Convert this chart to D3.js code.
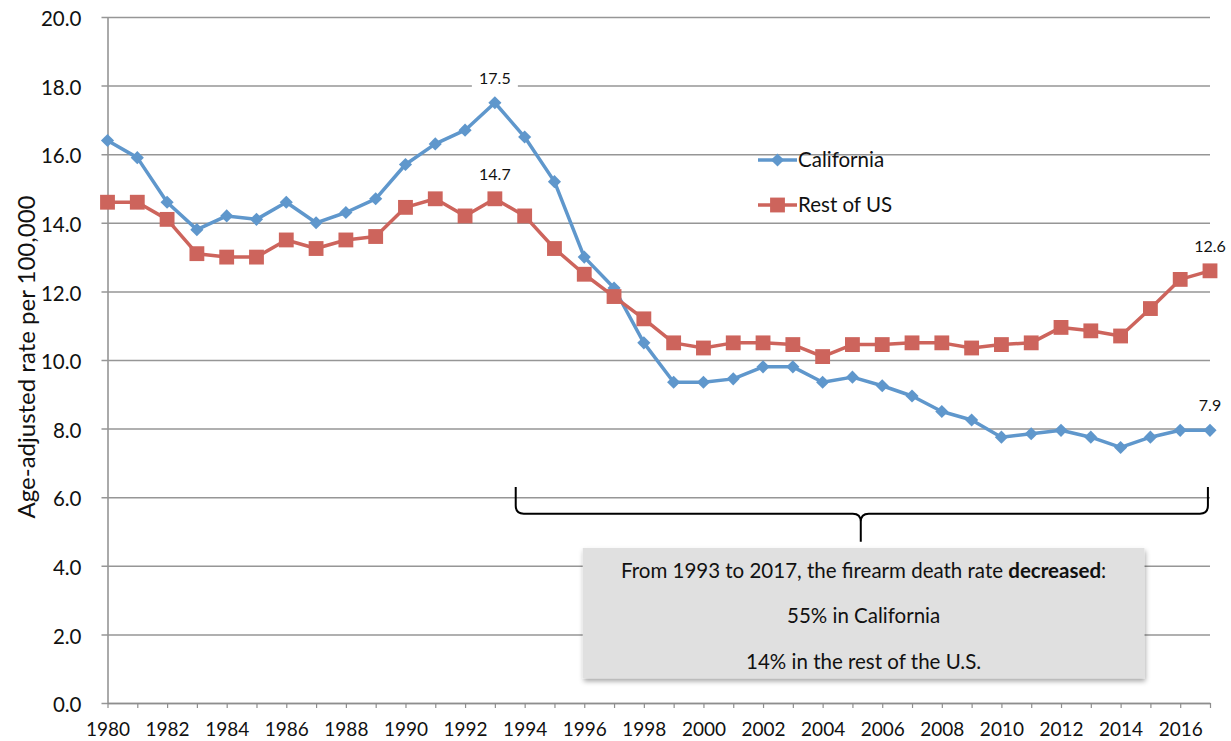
<!DOCTYPE html>
<html>
<head>
<meta charset="utf-8">
<script src="https://cdn.jsdelivr.net/npm/d3@7"></script>
<style>
  body { margin: 0; background: #fff; }
  text { font-family: Lato, "Open Sans", sans-serif; fill: #111; }
</style>
</head>
<body>
<div id="chart-area"></div>
<script>
// data
var years = d3.range(1980, 2018);
var california = [16.4, 15.9, 14.6, 13.8, 14.2, 14.1, 14.6, 14.0, 14.3, 14.7,
                  15.7, 16.3, 16.7, 17.5, 16.5, 15.2, 13.0, 12.1, 10.5, 9.35,
                  9.35, 9.45, 9.8, 9.8, 9.35, 9.5, 9.25, 8.95, 8.5, 8.25,
                  7.75, 7.85, 7.95, 7.75, 7.45, 7.75, 7.95, 7.95];
var restOfUS = [14.6, 14.6, 14.1, 13.1, 13.0, 13.0, 13.5, 13.25, 13.5, 13.6,
                14.45, 14.7, 14.2, 14.7, 14.2, 13.25, 12.5, 11.85, 11.2, 10.5,
                10.35, 10.5, 10.5, 10.45, 10.1, 10.45, 10.45, 10.5, 10.5, 10.35,
                10.45, 10.5, 10.95, 10.85, 10.7, 11.5, 12.35, 12.6];
var yTicks = [0, 2, 4, 6, 8, 10, 12, 14, 16, 18, 20];
var pointLabels = [
  { series: "California", year: 1993, text: "17.5" },
  { series: "Rest of US", year: 1993, text: "14.7" },
  { series: "Rest of US", year: 2017, text: "12.6" },
  { series: "California", year: 2017, text: "7.9" }
];
var noteLines = ["55% in California", "14% in the rest of the U.S."];

var blue = "#5f97cc";
var red = "#cd645c";

var margin = { left: 107.5, right: 21, top: 17, bottom: 38 };
var width = 1231 - margin.left - margin.right;
var height = 741 - margin.top - margin.bottom;

var svg = d3.select("#chart-area")
    .append("svg")
    .attr("width", 1231)
    .attr("height", 741);

var defs = svg.append("defs");
var shadow = defs.append("filter").attr("id", "shadow")
    .attr("x", "-5%").attr("y", "-10%").attr("width", "115%").attr("height", "130%");
shadow.append("feDropShadow")
    .attr("dx", 1).attr("dy", 3).attr("stdDeviation", 2.5)
    .attr("flood-color", "#000").attr("flood-opacity", 0.35);

var g = svg.append("g")
    .attr("transform", "translate(" + margin.left + ", " + margin.top + ")");

var x = d3.scaleLinear().domain([1980, 2017]).range([0, width]);
var y = d3.scaleLinear().domain([0, 20]).range([height, 0]);

// y axis with gridlines
var yAxis = d3.axisLeft(y).tickValues(yTicks).tickFormat(d3.format(".1f"))
    .tickSizeOuter(0);
var yg = g.append("g").attr("class", "y axis").call(yAxis);
yg.select(".domain").attr("stroke", "#8e8e8e").attr("stroke-width", 1.5);
yg.selectAll(".tick line")
    .attr("x1", -6).attr("x2", width)
    .attr("stroke", "#969696").attr("stroke-width", 1.5);
yg.selectAll(".tick text")
    .attr("x", -26)
    .attr("dy", "0.42em")
    .style("font-size", "20.5px")
    .attr("fill", "#111");

// x axis
var xAxis = d3.axisBottom(x).tickValues(years)
    .tickFormat(d => d % 2 === 0 ? d : "")
    .tickSizeInner(5).tickSizeOuter(0);
var xg = g.append("g").attr("class", "x axis")
    .attr("transform", "translate(0, " + height + ")")
    .call(xAxis);
xg.select(".domain").attr("stroke", "#8e8e8e").attr("stroke-width", 1.5);
xg.selectAll(".tick line").attr("stroke", "#8e8e8e").attr("stroke-width", 1.2);
xg.selectAll(".tick text")
    .attr("y", 20)
    .style("font-size", "19px")
    .attr("fill", "#111");

// y title
svg.append("text")
    .attr("transform", "translate(27, " + 357 + ") rotate(-90)")
    .attr("text-anchor", "middle")
    .attr("dy", "0.35em")
    .style("font-size", "24px")
    .text("Age-adjusted rate per 100,000");

// series
var series = [
  { name: "California", values: california, color: blue, shape: d3.symbolDiamond2, size: 110 },
  { name: "Rest of US", values: restOfUS, color: red, shape: d3.symbolSquare, size: 220 }
];

var line = d3.line().x((d, i) => x(years[i])).y(d => y(d));

series.forEach(s => {
  g.append("path")
      .datum(s.values)
      .attr("fill", "none")
      .attr("stroke", s.color)
      .attr("stroke-width", 3.5)
      .attr("stroke-linejoin", "round")
      .attr("d", line);
  g.selectAll(null)
      .data(s.values)
      .enter()
      .append("path")
      .attr("transform", (d, i) => "translate(" + x(years[i]) + "," + y(d) + ")")
      .attr("d", d3.symbol().type(s.shape).size(s.size))
      .attr("fill", s.color);
});

// data labels
pointLabels.forEach(p => {
  var s = series.find(d => d.name === p.series);
  var v = s.values[years.indexOf(p.year)];
  var lx = x(p.year), ly = y(v) - 25;
  g.append("rect")
      .attr("x", lx - 23).attr("y", ly - 10)
      .attr("width", 46).attr("height", 20)
      .attr("fill", "#fff");
  g.append("text")
      .attr("x", lx).attr("y", ly)
      .attr("dy", "0.36em")
      .attr("text-anchor", "middle")
      .style("font-size", "16px")
      .text(p.text);
});

// legend
var legend = g.append("g").attr("transform", "translate(" + (758 - margin.left) + ", 0)");
series.forEach((s, i) => {
  var ly = 160 - margin.top + i * 45;
  legend.append("line")
      .attr("x1", 0).attr("x2", 39).attr("y1", ly).attr("y2", ly)
      .attr("stroke", s.color).attr("stroke-width", 3.5);
  legend.append("path")
      .attr("transform", "translate(19.5," + ly + ")")
      .attr("d", d3.symbol().type(s.shape).size(s.size))
      .attr("fill", s.color);
  legend.append("text")
      .attr("x", 40).attr("y", ly)
      .attr("dy", "0.36em")
      .style("font-size", "20.5px")
      .text(s.name);
});

// brace under the 1993-2017 span
var bl = x(1993.7), br = x(2016.93), bc = x(2005.28);
var bTop = y(6.3), bMid = y(5.52), bBot = y(4.7);
var r = 8;
g.append("path")
    .attr("fill", "none")
    .attr("stroke", "#000")
    .attr("stroke-width", 2)
    .attr("d",
      "M" + bl + "," + bTop +
      " L" + bl + "," + (bMid - r) +
      " Q" + bl + "," + bMid + " " + (bl + r) + "," + bMid +
      " L" + (bc - r) + "," + bMid +
      " Q" + bc + "," + bMid + " " + bc + "," + (bMid + r) +
      " L" + bc + "," + bBot +
      " M" + bc + "," + (bMid + r) +
      " Q" + bc + "," + bMid + " " + (bc + r) + "," + bMid +
      " L" + (br - r) + "," + bMid +
      " Q" + br + "," + bMid + " " + br + "," + (bMid - r) +
      " L" + br + "," + bTop);

// annotation box
var boxX0 = x(1995.95), boxX1 = x(2014.8);
var boxY0 = y(4.52), boxY1 = y(0.72);
g.append("rect")
    .attr("x", boxX0).attr("y", boxY0)
    .attr("width", boxX1 - boxX0).attr("height", boxY1 - boxY0)
    .attr("fill", "#e0e0e0")
    .attr("filter", "url(#shadow)");

var cx = (boxX0 + boxX1) / 2;
var t1 = g.append("text")
    .attr("x", cx).attr("y", boxY0 + 23)
    .attr("dy", "0.36em")
    .attr("text-anchor", "middle")
    .style("font-size", "20.5px");
t1.append("tspan").text("From 1993 to 2017, the firearm death rate ");
t1.append("tspan").style("font-weight", "bold").text("decreased");
t1.append("tspan").text(":");

noteLines.forEach((txt, i) => {
  g.append("text")
      .attr("x", cx).attr("y", boxY0 + 68 + i * 46)
      .attr("dy", "0.36em")
      .attr("text-anchor", "middle")
      .style("font-size", "20.5px")
      .text(txt);
});
</script>
</body>
</html>
